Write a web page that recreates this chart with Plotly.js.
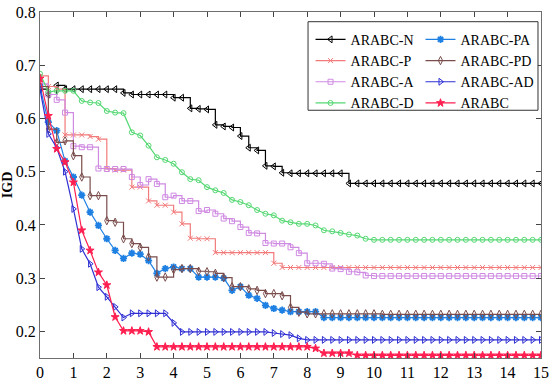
<!DOCTYPE html>
<html><head><meta charset="utf-8">
<script src="https://cdn.plot.ly/plotly-3.0.1.min.js"></script>
<style>html,body{margin:0;padding:0;background:#fff}#chart{width:550px;height:390px}</style>
</head><body><div id="chart"></div>
<script>
const gens = [0,0.25,0.5,0.75,1,1.25,1.5,1.75,2,2.25,2.5,2.75,3,3.25,3.5,3.75,4,4.25,4.5,4.75,5,5.25,5.5,5.75,6,6.25,6.5,6.75,7,7.25,7.5,7.75,8,8.25,8.5,8.75,9,9.25,9.5,9.75,10,10.25,10.5,10.75,11,11.25,11.5,11.75,12,12.25,12.5,12.75,13,13.25,13.5,13.75,14,14.25,14.5,14.75,15];

const igdN = [0.655,0.645,0.662,0.655,0.655,0.655,0.655,0.655,0.655,0.655,
  0.648,0.645,0.645,0.645,0.645,0.645,0.639,0.639,0.619,0.618,
  0.617,0.588,0.585,0.583,0.567,0.545,0.540,0.511,0.510,0.498,
  0.497,0.497,0.497,0.497,0.497,0.497,0.497,
  0.478,0.478,0.478,0.478,0.478,0.478,0.478,0.478,0.478,0.478,0.478,0.478,
  0.478,0.478,0.478,0.478,0.478,0.478,0.478,0.478,0.478,0.478,0.478,0.478];
const igdP = [0.680,0.660,0.655,0.569,0.569,0.569,0.566,0.561,0.506,0.503,
  0.503,0.471,0.471,0.445,0.437,0.437,0.424,0.402,0.375,0.374,
  0.374,0.348,0.348,0.348,0.348,0.348,0.348,0.348,0.328,0.320,
  0.320,0.320,0.320,0.320,0.320,0.320,0.320,0.320,0.320,0.320,0.320,
  0.320,0.320,0.320,0.320,0.320,0.320,0.320,0.320,0.320,0.320,
  0.320,0.320,0.320,0.320,0.320,0.320,0.320,0.320,0.320,0.320];
const igdA = [0.665,0.645,0.635,0.611,0.548,0.546,0.546,0.506,0.505,0.505,
  0.505,0.490,0.475,0.486,0.477,0.452,0.455,0.445,0.445,0.426,
  0.428,0.421,0.412,0.407,0.396,0.385,0.384,0.366,0.365,0.365,
  0.358,0.347,0.328,0.328,0.327,0.318,0.317,0.312,0.311,0.305,
  0.304,0.304,0.304,0.304,0.304,0.304,0.304,0.304,0.304,0.304,0.304,
  0.304,0.304,0.304,0.304,0.304,0.304,0.304,0.304,0.304,0.304];
const igdD = [0.684,0.650,0.652,0.652,0.652,0.633,0.630,0.629,0.614,0.611,
  0.610,0.574,0.568,0.549,0.527,0.522,0.515,0.499,0.486,0.484,
  0.471,0.465,0.460,0.447,0.443,0.437,0.428,0.421,0.418,0.408,
  0.405,0.402,0.402,0.399,0.390,0.388,0.385,0.382,0.380,0.374,
  0.372,0.372,0.372,0.372,0.372,0.372,0.372,0.372,0.372,0.372,0.372,
  0.372,0.372,0.372,0.372,0.372,0.372,0.372,0.372,0.372,0.372];
const igdPA = [0.660,0.593,0.577,0.520,0.490,0.456,0.424,0.399,0.374,0.352,
  0.337,0.347,0.345,0.333,0.309,0.318,0.321,0.318,0.318,0.302,
  0.302,0.302,0.300,0.277,0.284,0.268,0.262,0.249,0.243,0.240,
  0.237,0.237,0.237,0.237,
  0.226,0.226,0.226,0.226,0.226,0.226,0.226,0.226,0.226,0.226,0.226,0.226,0.226,0.226,
  0.226,0.226,0.226,0.226,0.226,0.226,0.226,0.226,0.226,0.226,0.226,0.226,0.226];
const igdPD = [0.660,0.580,0.555,0.558,0.530,0.490,0.455,0.455,0.408,0.405,
  0.374,0.365,0.358,0.340,0.302,0.302,0.316,0.318,0.318,0.313,
  0.312,0.309,0.301,0.284,0.284,0.280,0.277,0.271,0.271,0.267,
  0.245,0.236,
  0.233,0.233,0.233,0.233,0.233,0.233,0.233,0.233,0.233,
  0.232,0.232,0.232,0.232,0.232,0.232,0.232,0.232,0.232,0.232,
  0.232,0.232,0.232,0.232,0.232,0.232,0.232,0.232,0.232,0.232];
const igdAD = [0.655,0.571,0.545,0.500,0.430,0.355,0.327,0.283,0.265,0.246,
  0.226,0.234,0.234,0.234,0.234,0.234,0.216,0.199,0.199,0.199,
  0.199,0.199,0.199,0.199,0.199,0.199,0.199,0.199,0.197,0.195,
  0.193,0.187,
  0.184,0.184,0.184,0.184,0.184,0.184,0.184,0.184,0.184,0.184,
  0.184,0.184,0.184,0.184,0.184,0.184,0.184,0.184,0.184,0.184,
  0.184,0.184,0.184,0.184,0.184,0.184,0.184,0.184,0.184];
const igdARABC = [0.675,0.605,0.543,0.518,0.480,0.390,0.352,0.311,0.287,0.227,
  0.201,0.201,0.201,0.199,0.171,0.171,0.171,0.171,0.171,0.171,
  0.171,0.171,0.171,0.171,0.171,0.171,0.171,0.171,0.171,0.171,0.171,0.171,0.171,
  0.168,
  0.159,0.159,0.159,0.159,
  0.155,0.155,0.155,0.155,0.155,0.155,0.155,0.155,0.155,0.155,0.155,0.155,
  0.155,0.155,0.155,0.155,0.155,0.155,0.155,0.155,0.155,0.155,0.155];

const names = ['ARABC-N','ARABC-P','ARABC-A','ARABC-D','ARABC-PA','ARABC-PD','ARABC-AD','ARABC'];
const values = [igdN, igdP, igdA, igdD, igdPA, igdPD, igdAD, igdARABC];
const colors = ['#000000','#f27a7a','#cf8ae2','#55d873','#1f80e3','#7b4c4c','#2f2fd4','#ff1f50'];
const symbols = ['triangle-left-open','x-thin-open','square-open','circle-open','asterisk-open','diamond-tall-open','triangle-right-open','star'];
const msizes = [6,5,5,5,6,6,6,6];
const shapes = ['hv','hv','hv','linear','linear','hv','linear','linear'];
const legendOf = ['legend','legend','legend','legend','legend2','legend2','legend2','legend2'];

const serif = 'Liberation Serif';
const traces = names.map((n,i)=>({
  type:'scatter', mode:'lines+markers', name:n, x:gens, y:values[i],
  legend: legendOf[i],
  line:{color:colors[i], width:1.2, shape:shapes[i]},
  marker:{symbol:symbols[i], size:msizes[i], color:colors[i], line:{color:colors[i], width: symbols[i]==='asterisk-open'?1.8:1}}
}));

const layout = {
  width:550, height:390,
  margin:{l:40, r:9, t:12, b:32},
  paper_bgcolor:'#fff', plot_bgcolor:'#fff',
  font:{family:serif, color:'#000'},
  xaxis:{range:[0,15], tickmode:'linear', tick0:0, dtick:1, ticks:'inside', ticklen:5,
    showline:true, mirror:'ticks', linecolor:'#6e6e6e', tickcolor:'#444', linewidth:1,
    showgrid:false, zeroline:false, tickfont:{family:serif, size:16, color:'#000'}},
  yaxis:{range:[0.15,0.8], tickvals:[0.2,0.3,0.4,0.5,0.6,0.7,0.8], ticktext:['0.2','0.3','0.4','0.5','0.6','0.7','0.8'],
    ticks:'inside', ticklen:5, showline:true, mirror:'ticks', linecolor:'#6e6e6e', tickcolor:'#444', linewidth:1,
    showgrid:false, zeroline:false, tickfont:{family:serif, size:16, color:'#000'},
    title:{text:'<b>IGD</b>', font:{family:serif, size:14, color:'#000'}, standoff:5}},
  legend:{x:0.54, xanchor:'left', y:0.966, yanchor:'top', bgcolor:'rgba(0,0,0,0)', borderwidth:0,
    font:{family:serif, size:14, color:'#000'}, itemwidth:30, tracegroupgap:0},
  legend2:{x:0.997, xanchor:'right', y:0.966, yanchor:'top', bgcolor:'rgba(0,0,0,0)', borderwidth:0,
    font:{family:serif, size:14, color:'#000'}, itemwidth:30, tracegroupgap:0},
  shapes:[{type:'rect', xref:'paper', yref:'paper', x0:0.535, x1:0.994, y0:0.716, y1:0.972,
    line:{color:'#333', width:1}, fillcolor:'#fff', layer:'above'}],
  showlegend:true
};
Plotly.newPlot('chart', traces, layout, {displayModeBar:false, staticPlot:true});
</script></body></html>
